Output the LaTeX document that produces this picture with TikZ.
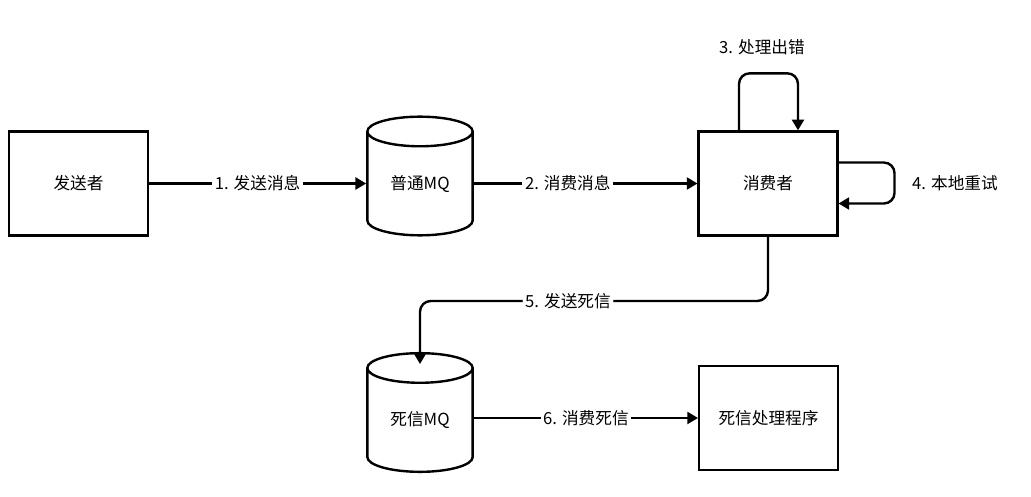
\documentclass[tikz,border=0pt]{standalone}
\usepackage{fontspec}
\setmainfont{Noto Sans CJK SC}
\usetikzlibrary{arrows.meta,shapes.geometric,calc}

\tikzset{
  box/.style={draw, minimum width=104pt, minimum height=78pt, inner sep=0pt},
  mq/.style={draw, cylinder, shape border rotate=90, aspect=0.5,
    minimum width=79pt, minimum height=89pt, inner sep=0pt},
  lbl/.style={fill=white, inner sep=2pt}
}

\begin{document}
\begin{tikzpicture}[>={Triangle[length=8pt,width=9pt]}, x=0.75pt, y=-0.75pt, line width=1.8pt,
  font=\fontsize{12.5}{14}\selectfont]
\useasboundingbox (0,0) rectangle (1031,496);

\node[box] (sender) at (78.5,183.5) {发送者};
\node[mq] (mq) at (420,184) {普通MQ};
\node[box] (consumer) at (768,183.5) {消费者};
\node[mq] (dlq) at (420,420.5) {死信MQ};
\node[box] (handler) at (768.5,418) {死信处理程序};

\node (err) at (762,47) {3. 处理出错};
\node (retry) at (955,183) {4. 本地重试};
\coordinate (turn) at (568,301);

\draw[->] (sender.east) -- node[lbl]{1. 发送消息} (sender.east -| mq.west);
\draw[->] (mq.east |- consumer.west) -- node[lbl,pos=.42]{2. 消费消息} (consumer.west);
% retry loops
\draw[->,rounded corners=8] ($(consumer.north)+(-29,0)$) -- ++(0,-57) -| ($(consumer.north)+(30,0)$);
\draw[->,rounded corners=8] ($(consumer.east)+(0,-21)$) -| ++(56,41) -- ($(consumer.east)+(0,20)$);
% dead letter
\draw[->,rounded corners=8] (consumer.south) |- (turn) node[lbl]{5. 发送死信} -| ($(dlq.north)+(0,12)$);
\draw[->] (dlq.east |- handler.west) -- node[lbl]{6. 消费死信} (handler.west);
\end{tikzpicture}
\end{document}
